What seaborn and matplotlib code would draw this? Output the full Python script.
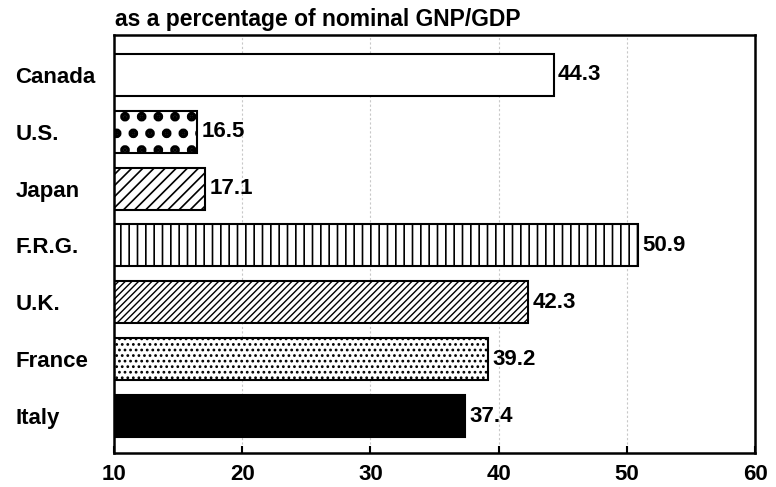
import matplotlib
matplotlib.use("Agg")
import matplotlib.pyplot as plt
import seaborn as sns

# data
countries = ["Canada", "U.S.", "Japan", "F.R.G.", "U.K.", "France", "Italy"]
values = [44.3, 16.5, 17.1, 50.9, 42.3, 39.2, 37.4]
fills = ["white", "white", "white", "white", "white", "white", "black"]
hatches = ["", ".", "///", "||", "/////", "...", ""]
x_ticks = [10, 20, 30, 40, 50, 60]
title = "as a percentage of nominal GNP/GDP"

sns.set_theme(style="white")
plt.rcParams["font.family"] = ["Liberation Sans", "DejaVu Sans"]
plt.rcParams["font.weight"] = "bold"
plt.rcParams["text.color"] = "black"
plt.rcParams["xtick.color"] = "black"
plt.rcParams["ytick.color"] = "black"
plt.rcParams["xtick.labelcolor"] = "black"
plt.rcParams["ytick.labelcolor"] = "black"
plt.rcParams["hatch.linewidth"] = 1.2


def main():
    fig = plt.figure(figsize=(7.76, 4.87), dpi=100)
    ax = fig.add_axes([114 / 776, 1 - 453 / 487, (755 - 114) / 776, (453 - 35) / 487])

    sns.barplot(x=values, y=countries, hue=countries, palette=fills, legend=False,
                orient="h", width=0.74, edgecolor="black", linewidth=1.5, ax=ax)

    for patch, h in zip(ax.patches, hatches):
        patch.set_hatch(h)
        if hasattr(patch, "set_hatch_linewidth"):
            if h == ".":
                patch.set_hatch_linewidth(4.5)
            elif h == "/////":
                patch.set_hatch_linewidth(1.0)

    for cont in ax.containers:
        ax.bar_label(cont, fmt="%.1f", padding=3, fontsize=16, fontweight="bold",
                     color="black")

    ax.set_xlim(10, 60)
    ax.set_ylim(6.65, -0.7)
    ax.set_xticks(x_ticks)
    ax.set_xlabel("")
    ax.set_ylabel("")

    for x in x_ticks[1:-1]:
        ax.axvline(x, color="#c8c8c8", lw=0.8, ls=(0, (2, 2)), zorder=0)

    ax.tick_params(axis="x", direction="in", length=5, width=1.5, pad=8,
                   labelsize=16, bottom=True)
    ax.tick_params(axis="y", length=0, pad=71, labelsize=16)
    for lab in ax.get_yticklabels():
        lab.set_horizontalalignment("left")
        lab.set_fontweight("bold")
    for lab in ax.get_xticklabels():
        lab.set_fontweight("bold")

    for side in ["left", "right", "top", "bottom"]:
        ax.spines[side].set_visible(True)
        ax.spines[side].set_color("black")
        ax.spines[side].set_linewidth(1.8)

    fig.text(115 / 776, 1 - 26 / 487, title, fontsize=16.5, fontweight="bold",
             ha="left", va="baseline", color="black")

    fig.savefig("out.png", dpi=100, facecolor="white")
    plt.close(fig)


if __name__ == "__main__":
    main()
